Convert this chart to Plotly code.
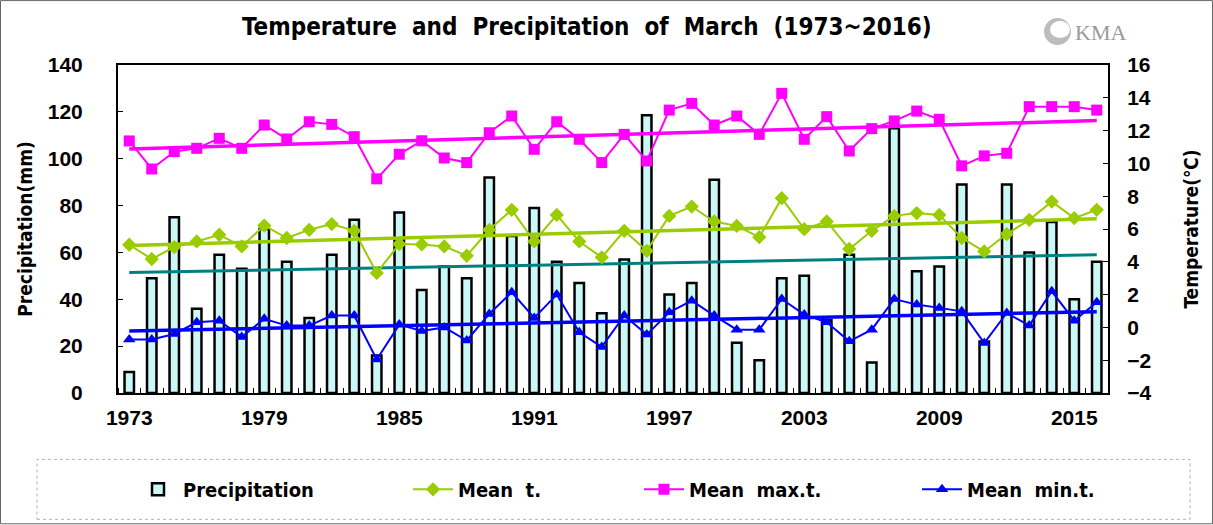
import numpy as np
import plotly.graph_objects as go

years = list(range(1973, 2017))
precip = [9, 49, 75, 36, 59, 53, 70, 56, 32, 59, 74, 16, 77, 44, 54, 49, 92, 67, 79, 56,
          47, 34, 57, 118.5, 42, 47, 91, 21.5, 14, 49, 50, 31, 59, 13, 113, 52, 54, 89,
          22, 89, 60, 73, 40, 56]
mean_t = [5.04, 4.17, 4.9, 5.24, 5.65, 4.94, 6.21, 5.45, 5.95, 6.3, 5.89, 3.32, 5.08, 5.06,
          4.94, 4.37, 5.95, 7.17, 5.24, 6.86, 5.24, 4.27, 5.89, 4.67, 6.8, 7.37, 6.46, 6.19,
          5.5, 7.88, 5.99, 6.46, 4.78, 5.89, 6.8, 6.97, 6.86, 5.45, 4.63, 5.69, 6.56, 7.67,
          6.66, 7.17]
mean_max = [11.37, 9.66, 10.72, 10.92, 11.53, 10.92, 12.34, 11.49, 12.54, 12.38, 11.63, 9.06,
            10.56, 11.38, 10.33, 10.05, 11.87, 12.89, 10.86, 12.54, 11.47, 10.05, 11.77, 10.15,
            13.25, 13.66, 12.34, 12.89, 11.77, 14.27, 11.47, 12.85, 10.76, 12.12, 12.59, 13.19,
            12.69, 9.85, 10.46, 10.62, 13.46, 13.46, 13.46, 13.25]
mean_min = [-0.74, -0.74, -0.4, 0.31, 0.41, -0.58, 0.52, 0.11, 0.11, 0.72, 0.72, -1.96, 0.17,
            -0.22, 0.0, -0.8, 0.82, 2.14, 0.58, 2.0, -0.3, -1.19, 0.72, -0.44, 0.92, 1.63, 0.72,
            -0.14, -0.14, 1.73, 0.78, 0.31, -0.85, -0.14, 1.73, 1.39, 1.19, 0.98, -0.95, 0.88,
            0.11, 2.2, 0.41, 1.53]
tick_years = [1973, 1979, 1985, 1991, 1997, 2003, 2009, 2015]


def trend(y):
    c = np.polyfit(years, y, 1)
    return [c[0] * x + c[1] for x in years]


FONT = "DejaVu Sans Condensed, DejaVu Sans, sans-serif"
NUMF = "Liberation Sans, Arial, sans-serif"
W, H = 1213, 525
L, R, T, B = 118, 105, 65, 131.5
PW, PH = W - L - R, H - T - B


def px(x):
    return (x - L) / PW


def py(y):
    return (H - B - y) / PH


def cfont(size, color="black"):
    return dict(family=FONT, size=size, color=color, weight="bold")


numfont = dict(family=NUMF, size=21, color="black", weight="bold")

fig = go.Figure()
fig.add_trace(go.Bar(x=years, y=precip, name="Precipitation", width=0.42,
                     marker=dict(color="#ccf7f7", line=dict(color="black", width=2.5)),
                     legend="legend"))
fig.add_trace(go.Scatter(x=years, y=trend(precip), mode="lines", showlegend=False,
                         line=dict(color="#008080", width=3)))
fig.add_trace(go.Scatter(x=years, y=mean_t, mode="lines+markers", name="Mean  t.", yaxis="y2",
                         line=dict(color="#9acd00", width=2),
                         marker=dict(symbol="diamond", size=11, color="#9acd00"),
                         legend="legend2"))
fig.add_trace(go.Scatter(x=years, y=trend(mean_t), mode="lines", yaxis="y2", showlegend=False,
                         line=dict(color="#9acd00", width=3.5)))
fig.add_trace(go.Scatter(x=years, y=mean_max, mode="lines+markers", name="Mean  max.t.", yaxis="y2",
                         line=dict(color="#ff00ff", width=2),
                         marker=dict(symbol="square", size=11, color="#ff00ff"),
                         legend="legend3"))
fig.add_trace(go.Scatter(x=years, y=trend(mean_max), mode="lines", yaxis="y2", showlegend=False,
                         line=dict(color="#ff00ff", width=3.5)))
fig.add_trace(go.Scatter(x=years, y=mean_min, mode="lines+markers", name="Mean  min.t.", yaxis="y2",
                         line=dict(color="#0000ff", width=2),
                         marker=dict(symbol="triangle-up", size=11, color="#0000ff"),
                         legend="legend4"))
fig.add_trace(go.Scatter(x=years, y=trend(mean_min), mode="lines", yaxis="y2", showlegend=False,
                         line=dict(color="#0000ff", width=3.5)))

leg_common = dict(orientation="h", yanchor="middle", y=py(490), xanchor="left",
                  font=cfont(20), bgcolor="rgba(0,0,0,0)", itemwidth=40)

fig.update_layout(
    width=W, height=H,
    margin=dict(l=L, r=R, t=T, b=B, pad=0),
    paper_bgcolor="white", plot_bgcolor="white",
    showlegend=True,
    legend=dict(x=px(133), **leg_common),
    legend2=dict(x=px(408), **leg_common),
    legend3=dict(x=px(639), **leg_common),
    legend4=dict(x=px(917), **leg_common),
    xaxis=dict(range=[1972.5, 2016.5], tickvals=tick_years, ticktext=[str(v) for v in tick_years],
               ticks="", showline=True, linecolor="black", linewidth=2, mirror=True,
               showgrid=False, zeroline=False, tickfont=numfont, ticklabelstandoff=5,
               minor=dict(ticks="inside", tick0=1972.5, dtick=1, ticklen=5, tickcolor="black",
                          tickwidth=1, showgrid=False)),
    yaxis=dict(range=[0, 140], dtick=20, ticks="inside", ticklen=5, tickcolor="black",
               showline=True, linecolor="black", linewidth=2, showgrid=False, zeroline=False,
               tickfont=numfont, ticklabelstandoff=29,
               title=dict(text="Precipitation(mm)", standoff=10, font=cfont(19))),
    yaxis2=dict(range=[-4, 16], dtick=2, ticks="inside", ticklen=5, tickcolor="black",
                overlaying="y", side="right", showline=True, linecolor="black", linewidth=2,
                showgrid=False, zeroline=False, tickfont=numfont, ticklabelstandoff=13,
                title=dict(text="Temperature(℃)", standoff=34, font=cfont(19))),
)

fig.add_annotation(text="Temperature  and  Precipitation  of  March  (1973~2016)",
                   xref="paper", yref="paper", x=px(587), y=py(27), showarrow=False,
                   xanchor="center", yanchor="middle", font=cfont(24))
fig.add_annotation(text="KMA", xref="paper", yref="paper", x=px(1073), y=py(32), showarrow=False,
                   xanchor="left", yanchor="middle",
                   font=dict(family="Liberation Serif, serif", size=22, color="#9a9a9a"))
fig.add_shape(type="circle", xref="paper", yref="paper", x0=px(1044), x1=px(1071),
              y0=py(45), y1=py(18), fillcolor="#bdbdbd", line=dict(width=0))
fig.add_shape(type="circle", xref="paper", yref="paper", x0=px(1050), x1=px(1070),
              y0=py(38), y1=py(21), fillcolor="white", line=dict(width=0))
fig.add_shape(type="rect", xref="paper", yref="paper", x0=px(37), x1=px(1190),
              y0=py(520), y1=py(460), line=dict(color="#b0b0b0", width=1, dash="dot"))
fig.add_shape(type="rect", xref="paper", yref="paper", x0=px(0.5), x1=px(W - 0.5),
              y0=py(H - 0.5), y1=py(0.5), line=dict(color="#666666", width=1))

fig.write_html("out.html", config={"displayModeBar": False},
               post_script="document.body.style.margin='0';document.body.style.overflow='hidden';")
